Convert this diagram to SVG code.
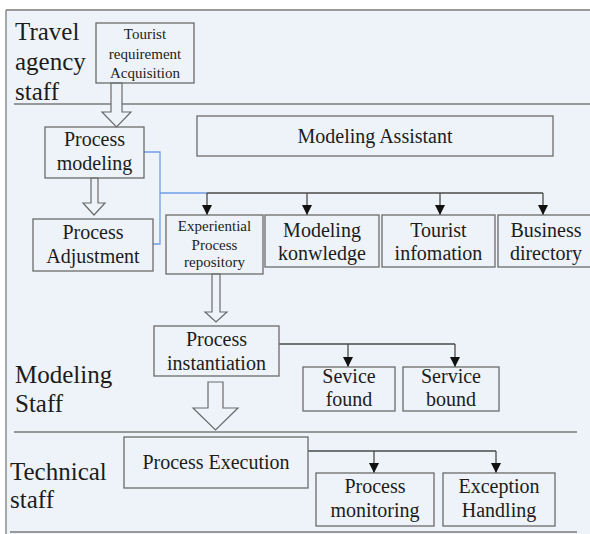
<svg xmlns="http://www.w3.org/2000/svg" width="590" height="534" viewBox="0 0 590 534">
  <style>
    .box { fill: none; stroke: #6a6a6a; stroke-width: 1.3; }
    .sep { stroke: #7a7a7a; stroke-width: 1.3; fill: none; }
    text { font-family: "Liberation Serif", "Times New Roman", Times, "DejaVu Serif", serif; fill: #1c1c1c; }
    .t { text-anchor: middle; }
    .t20 { font-size: 20px; }
    .t15 { font-size: 15px; }
    .lane { font-size: 25px; }
    .wire { stroke: #4a4a4a; stroke-width: 1.3; fill: none; }
    .blue { stroke: #6f9fe6; stroke-width: 1.3; fill: none; }
    .fat { fill: #eef3f9; stroke: #6a6a6a; stroke-width: 1.2; }
  </style>
  <defs>
    <marker id="head" markerUnits="userSpaceOnUse" markerWidth="11" markerHeight="10" refX="10" refY="5" orient="auto" viewBox="0 0 11 10">
      <path d="M0,0 L10,5 L0,10 Z" fill="#111"/>
    </marker>
  </defs>

  <!-- page -->
  <rect x="0" y="0" width="590" height="534" fill="#ffffff"/>
  <rect x="6" y="10" width="590" height="530" fill="#eef3f9"/>
  <g id="frame">
    <line class="sep" x1="6" y1="10" x2="590" y2="10"/>
    <line class="sep" x1="6" y1="10" x2="6" y2="534"/>
    <line class="sep" x1="14" y1="104" x2="590" y2="104"/>
    <line class="sep" x1="14" y1="432" x2="577" y2="432"/>
    <line class="sep" x1="10" y1="532" x2="577" y2="532"/>
  </g>

  <!-- lane titles -->
  <g id="lane-travel" font-family="Liberation Serif, serif">
    <text class="lane" x="15" y="40">Travel</text>
    <text class="lane" x="15" y="70">agency</text>
    <text class="lane" x="15" y="100">staff</text>
  </g>
  <g id="lane-modeling">
    <text class="lane" x="15" y="383">Modeling</text>
    <text class="lane" x="15" y="412">Staff</text>
  </g>
  <g id="lane-technical">
    <text class="lane" x="10" y="480">Technical</text>
    <text class="lane" x="10" y="508">staff</text>
  </g>

  <!-- connectors -->
  <g id="connectors">
    <!-- block arrows -->
    <path class="fat" d="M111,83 L122,83 L122,112 L131,112 L116.5,127 L102,112 L111,112 Z"/>
    <path class="fat" d="M91,178 L98,178 L98,203 L105,203 L94,215 L83,203 L91,203 Z"/>
    <path class="fat" d="M212,274 L220,274 L220,312 L227,312 L216,322 L205,312 L212,312 Z"/>
    <path class="fat" d="M208,382 L223,382 L223,408 L238,408 L215.5,430 L193,408 L208,408 Z"/>

    <!-- blue links from Process modeling -->
    <polyline class="blue" points="144,152 160,152 160,244 153,244"/>
    <line class="blue" x1="160" y1="193" x2="207" y2="193"/>

    <!-- fan-out to repositories -->
    <line class="wire" x1="207" y1="193" x2="543" y2="193"/>
    <line class="wire" x1="207" y1="193" x2="207" y2="215" marker-end="url(#head)"/>
    <line class="wire" x1="307" y1="193" x2="307" y2="215" marker-end="url(#head)"/>
    <line class="wire" x1="440" y1="193" x2="440" y2="215" marker-end="url(#head)"/>
    <line class="wire" x1="543" y1="193" x2="543" y2="215" marker-end="url(#head)"/>

    <!-- instantiation services -->
    <line class="wire" x1="279" y1="344" x2="455" y2="344"/>
    <line class="wire" x1="348" y1="344" x2="348" y2="367" marker-end="url(#head)"/>
    <line class="wire" x1="455" y1="344" x2="455" y2="367" marker-end="url(#head)"/>

    <!-- execution services -->
    <line class="wire" x1="308" y1="451" x2="496" y2="451"/>
    <line class="wire" x1="374" y1="451" x2="374" y2="473" marker-end="url(#head)"/>
    <line class="wire" x1="496" y1="451" x2="496" y2="473" marker-end="url(#head)"/>
  </g>

  <!-- nodes -->
  <g id="tourist-requirement">
    <rect class="box" x="96" y="23" width="98" height="60"/>
    <text class="t t15" x="145" y="39">Tourist</text>
    <text class="t t15" x="145" y="59">requirement</text>
    <text class="t t15" x="145" y="78">Acquisition</text>
  </g>
  <g id="process-modeling">
    <rect class="box" x="45" y="127" width="99" height="51"/>
    <text class="t t20" x="94.5" y="146">Process</text>
    <text class="t t20" x="94.5" y="170">modeling</text>
  </g>
  <g id="modeling-assistant">
    <rect class="box" x="197" y="116" width="356" height="40"/>
    <text class="t t20" x="375" y="143">Modeling Assistant</text>
  </g>
  <g id="process-adjustment">
    <rect class="box" x="33" y="219" width="120" height="52"/>
    <text class="t t20" x="93" y="239">Process</text>
    <text class="t t20" x="93" y="263">Adjustment</text>
  </g>
  <g id="experiential-repository">
    <rect class="box" x="166" y="215" width="97" height="59"/>
    <text class="t t15" x="214.5" y="231">Experiential</text>
    <text class="t t15" x="214.5" y="250">Process</text>
    <text class="t t15" x="214.5" y="267">repository</text>
  </g>
  <g id="modeling-knowledge">
    <rect class="box" x="265" y="215" width="114" height="52"/>
    <text class="t t20" x="322" y="237">Modeling</text>
    <text class="t t20" x="322" y="260">konwledge</text>
  </g>
  <g id="tourist-information">
    <rect class="box" x="382" y="215" width="113" height="52"/>
    <text class="t t20" x="438.5" y="237">Tourist</text>
    <text class="t t20" x="438.5" y="260">infomation</text>
  </g>
  <g id="business-directory">
    <rect class="box" x="498" y="215" width="96" height="52"/>
    <text class="t t20" x="546" y="237">Business</text>
    <text class="t t20" x="546" y="260">directory</text>
  </g>
  <g id="process-instantiation">
    <rect class="box" x="154" y="326" width="125" height="50"/>
    <text class="t t20" x="216.5" y="346">Process</text>
    <text class="t t20" x="216.5" y="370">instantiation</text>
  </g>
  <g id="service-found">
    <rect class="box" x="303" y="367" width="92" height="44"/>
    <text class="t t20" x="349" y="383">Sevice</text>
    <text class="t t20" x="349" y="406">found</text>
  </g>
  <g id="service-bound">
    <rect class="box" x="403" y="367" width="96" height="44"/>
    <text class="t t20" x="451" y="383">Service</text>
    <text class="t t20" x="451" y="406">bound</text>
  </g>
  <g id="process-execution">
    <rect class="box" x="124" y="437" width="184" height="51"/>
    <text class="t t20" x="216" y="469">Process Execution</text>
  </g>
  <g id="process-monitoring">
    <rect class="box" x="316" y="473" width="118" height="53"/>
    <text class="t t20" x="375" y="493">Process</text>
    <text class="t t20" x="375" y="517">monitoring</text>
  </g>
  <g id="exception-handling">
    <rect class="box" x="443" y="473" width="112" height="53"/>
    <text class="t t20" x="499" y="493">Exception</text>
    <text class="t t20" x="499" y="517">Handling</text>
  </g>
</svg>
